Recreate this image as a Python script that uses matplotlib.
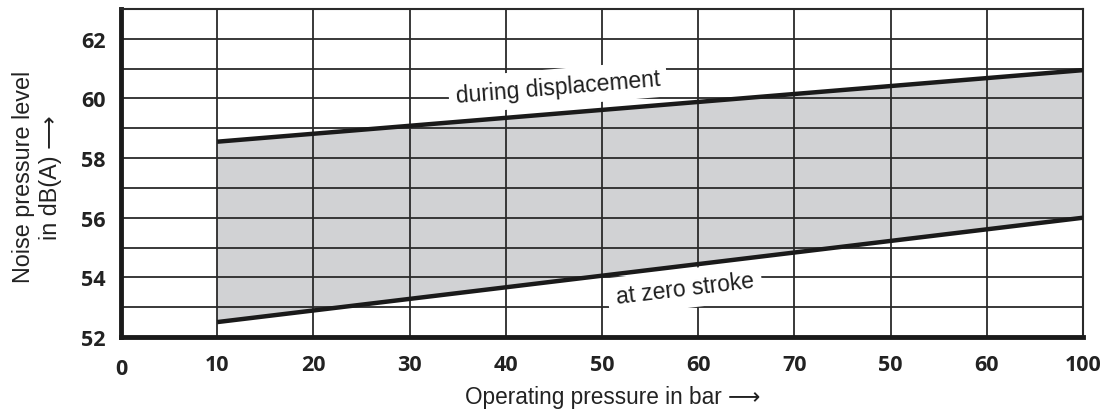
import numpy as np
import matplotlib.pyplot as plt
from matplotlib.transforms import ScaledTranslation

# данные
positions = [0, 1, 2, 3, 4, 5, 6, 7, 8, 9, 10]
tick_labels = ['0', '10', '20', '30', '40', '50', '60', '70', '50', '60', '100']
curve_x = [1, 10]
during_displacement = [58.55, 60.95]
at_zero_stroke = [52.5, 56.0]

fig = plt.figure(figsize=(11.04, 4.14), dpi=100)
ax = fig.add_axes([0.1096, 0.1836, 0.8714, 0.7922])

ax.fill_between(curve_x, at_zero_stroke, during_displacement, color='#d1d2d4', zorder=1)

# сетка
for v in np.arange(53, 63, 1):
    ax.axhline(v, color='#2a2a2a', lw=1.3, zorder=2)
for p in positions[1:-1]:
    ax.axvline(p, color='#2a2a2a', lw=1.3, zorder=2)

ax.plot(curve_x, during_displacement, color='#1a1a1a', lw=3.2, zorder=3, solid_capstyle='butt')
ax.plot(curve_x, at_zero_stroke, color='#1a1a1a', lw=3.2, zorder=3, solid_capstyle='butt')

ax.text(4.54, 60.38, 'during displacement', fontsize=16.5, family='Liberation Sans',
        rotation=4.8, ha='center', va='center', color='#1e1e1e', zorder=4,
        bbox=dict(boxstyle='square,pad=0.3', fc='white', ec='none'))
ax.text(5.86, 53.62, 'at zero stroke', fontsize=16.5, family='Liberation Sans',
        rotation=6.8, ha='center', va='center', color='#1e1e1e', zorder=4,
        bbox=dict(boxstyle='square,pad=0.35', fc='white', ec='none'))

ax.set_xlim(0, 10)
ax.set_ylim(52, 63)
ax.set_xticks(positions)
ax.set_xticklabels(tick_labels)
ax.set_yticks([52, 54, 56, 58, 60, 62])
ax.tick_params(length=0, labelsize=15.5, colors='#222222')
ax.tick_params(axis='x', pad=12)
ax.tick_params(axis='y', pad=11)
for lab in ax.get_xticklabels() + ax.get_yticklabels():
    lab.set_fontfamily('Open Sans')
    lab.set_fontweight('bold')
    lab.set_fontstretch('condensed')

# "0" стоит чуть ниже остальных
lab0 = ax.get_xticklabels()[0]
lab0.set_transform(lab0.get_transform() + ScaledTranslation(0, -4 / 100, fig.dpi_scale_trans))

for s in ['left', 'bottom']:
    ax.spines[s].set_linewidth(3.5)
    ax.spines[s].set_color('#1a1a1a')
for s in ['top', 'right']:
    ax.spines[s].set_linewidth(1.5)
    ax.spines[s].set_color('#2a2a2a')

ax.set_xlabel('Operating pressure in bar ⟶', fontsize=16.3, family=['Liberation Sans', 'DejaVu Sans'],
              color='#222222')
ax.xaxis.set_label_coords(0.511, -0.145)
ax.set_ylabel('Noise pressure level\nin dB(A) ⟶', fontsize=16.8, family=['Liberation Sans', 'DejaVu Sans'],
              color='#222222', linespacing=1.25)
ax.yaxis.set_label_coords(-0.061, 0.49)

fig.savefig('out.png', dpi=100)
